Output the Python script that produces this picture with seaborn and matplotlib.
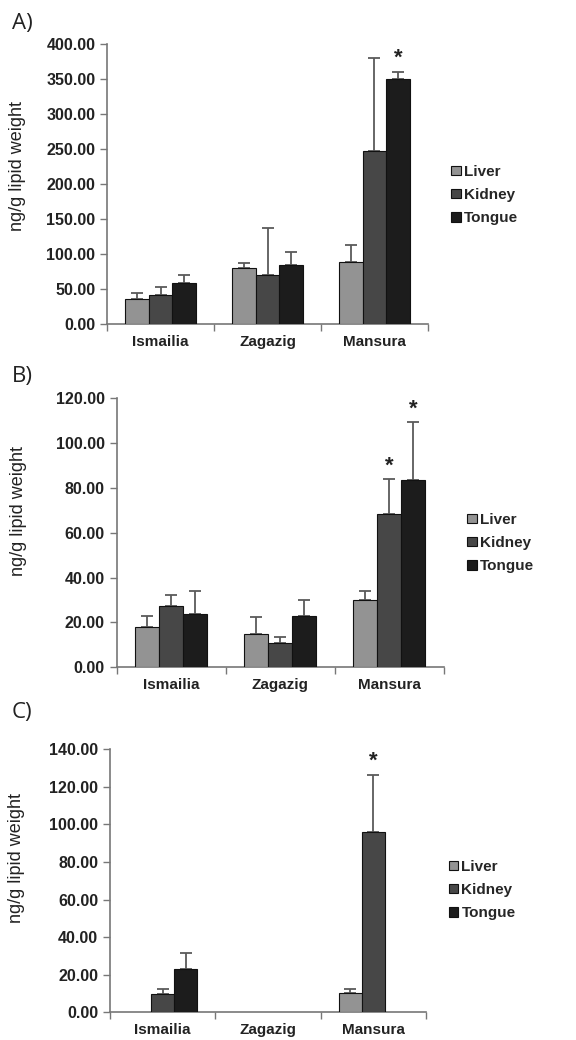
import numpy as np
import pandas as pd
import matplotlib
matplotlib.use("Agg")
import matplotlib.pyplot as plt
import seaborn as sns

cities = ["Ismailia", "Zagazig", "Mansura"]
tissues = ["Liver", "Kidney", "Tongue"]
colors = ["#939393", "#474747", "#1c1c1c"]

# mean values per tissue (rows = Liver, Kidney, Tongue; columns = cities)
a_mean = [[35.0, 79.0, 88.6], [41.0, 69.5, 246.7], [58.6, 83.8, 350.0]]
a_err = [[9.3, 8.0, 23.8], [11.4, 67.2, 132.3], [10.9, 18.2, 10.0]]
b_mean = [[17.8, 15.0, 29.9], [27.5, 10.9, 68.4], [23.9, 23.0, 83.7]]
b_err = [[5.2, 7.5, 4.3], [4.8, 2.8, 15.6], [10.1, 7.0, 25.6]]
c_mean = [[np.nan, np.nan, 10.1], [9.8, np.nan, 96.2], [23.2, np.nan, np.nan]]
c_err = [[np.nan, np.nan, 2.5], [2.8, np.nan, 30.3], [8.2, np.nan, np.nan]]

a_stars = [("Mansura", "Tongue")]
b_stars = [("Mansura", "Kidney"), ("Mansura", "Tongue")]
c_stars = [("Mansura", "Kidney")]

a_ticks = [0, 50, 100, 150, 200, 250, 300, 350, 400]
b_ticks = [0, 20, 40, 60, 80, 100, 120]
c_ticks = [0, 20, 40, 60, 80, 100, 120, 140]

sns.set_style("white")
plt.rcParams["font.family"] = ["Liberation Sans", "DejaVu Sans"]

fig = plt.figure(figsize=(5.76, 10.4), dpi=100)

# label, data, axes rect, panel label y, legend y (px), ylabel position
panels = [
    ("A)", a_mean, a_err, a_stars, a_ticks, [0.186, 0.6888, 0.557, 0.2692], 0.977, 168, (-0.2525, 0.563)),
    ("B)", b_mean, b_err, b_stars, b_ticks, [0.2026, 0.3584, 0.568, 0.2587], 0.638, 516, (-0.274, 0.581)),
    ("C)", c_mean, c_err, c_stars, c_ticks, [0.191, 0.0266, 0.5486, 0.2529], 0.315, 863, (-0.269, 0.587)),
]

for label, means, errs, stars, ticks, rect, label_y, leg_y, ylab_pos in panels:
    rows = []
    for i, t in enumerate(tissues):
        for j, c in enumerate(cities):
            rows.append({"city": c, "tissue": t, "value": means[i][j], "err": errs[i][j]})
    df = pd.DataFrame(rows)

    ax = fig.add_axes(rect)
    sns.barplot(data=df.dropna(subset=["value"]), x="city", y="value", hue="tissue",
                order=cities, hue_order=tissues, palette=colors, width=0.66,
                errorbar=None, edgecolor="#111111", linewidth=0.8, ax=ax, zorder=3)

    # one-sided error bars and significance stars
    bar_conts = list(ax.containers)
    for k, cont in enumerate(bar_conts):
        t = cont.get_label() if cont.get_label() in tissues else tissues[k]
        for bar in cont:
            h = bar.get_height()
            if np.isnan(h):
                continue
            cx = bar.get_x() + bar.get_width() / 2
            c = cities[int(round(cx))]
            e = df[(df.city == c) & (df.tissue == t)]["err"].iloc[0]
            ax.errorbar(cx, h, yerr=[[0], [e]], fmt="none", ecolor="#5a5a5a",
                        elinewidth=1.3, capsize=4, capthick=1.3, zorder=2)
            if (c, t) in stars:
                ax.text(cx, h + e + ticks[-1] * 0.01, "*", ha="center", va="bottom",
                        fontsize=16, fontweight="bold", color="#222222")

    ax.set_xlim(-0.5, 2.5)
    ax.set_ylim(0, ticks[-1])
    ax.set_yticks(ticks)
    ax.set_yticklabels([f"{v:.2f}" for v in ticks], fontsize=11.5, fontweight="bold",
                       color="#222222")
    ax.set_xticks(range(3))
    ax.set_xticklabels(cities, fontsize=11, fontweight="bold", color="#222222")
    ax.set_xticks([-0.5, 0.5, 1.5, 2.5], minor=True)
    ax.tick_params(axis="x", which="major", length=0, pad=8)
    ax.tick_params(axis="x", which="minor", length=5, width=1, color="#777777",
                   direction="out", bottom=True)
    ax.tick_params(axis="y", length=5, width=1, color="#777777", direction="out", left=True)
    ax.set_xlabel("")
    ax.set_ylabel("ng/g lipid weight", fontsize=13, color="#222222")
    ax.yaxis.set_label_coords(*ylab_pos)
    for s in ["top", "right"]:
        ax.spines[s].set_visible(False)
    for s in ["left", "bottom"]:
        ax.spines[s].set_color("#777777")
        ax.spines[s].set_linewidth(1.2)

    handles, labels = ax.get_legend_handles_labels()
    top_px = (1 - rect[1] - rect[3]) * 1040
    anchor_y = 1 - (leg_y + 27 - top_px) / (rect[3] * 1040)
    ax.legend(handles[:3], labels[:3], loc="center left", frameon=False,
              bbox_to_anchor=(1.03, anchor_y),
              prop={"weight": "bold", "size": 11}, handlelength=0.6, handleheight=0.6,
              handletextpad=0.2, labelspacing=0.6)

    fig.text(0.02, label_y, label, fontsize=16, family="Open Sans", color="#222222",
             va="center", ha="left")

fig.savefig("out.png", dpi=100)
